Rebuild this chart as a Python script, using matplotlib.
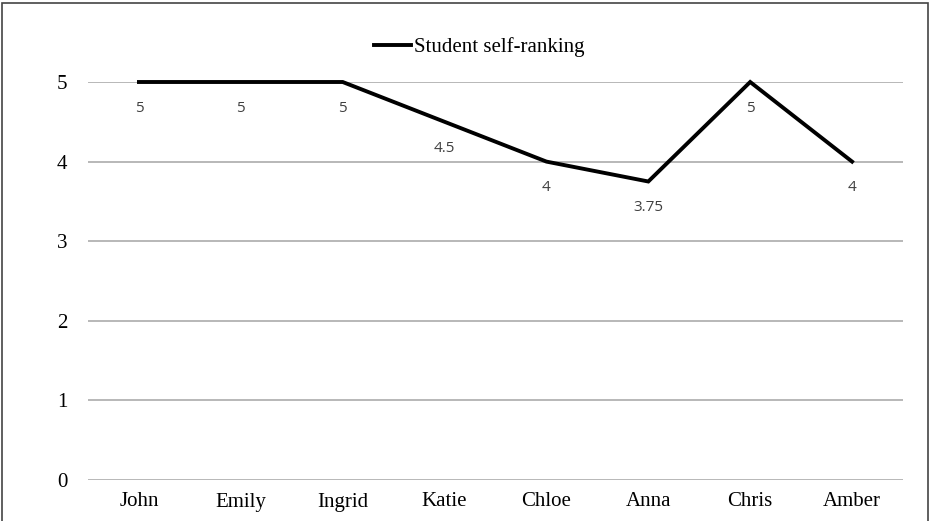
import matplotlib
matplotlib.use("Agg")
import matplotlib.pyplot as plt
from matplotlib.patches import Rectangle

categories = ["John", "Emily", "Ingrid", "Katie", "Chloe", "Anna", "Chris", "Amber"]
values = [5, 5, 5, 4.5, 4, 3.75, 5, 4]
value_labels = ["5", "5", "5", "4.5", "4", "3.75", "5", "4"]
yticks = [0, 1, 2, 3, 4, 5]
series_name = "Student self-ranking"

fig = plt.figure(figsize=(9.32, 5.21), dpi=100)
ax = fig.add_axes([88/932, 1-480/521, (903-88)/932, (480-82)/521])

x = list(range(len(categories)))
ax.plot(x, values, color="black", lw=2.8, solid_joinstyle="miter",
        label=series_name, clip_on=False, zorder=3)

for xi, v, lab in zip(x, values, value_labels):
    ax.annotate(lab, (xi, v), xytext=(0, -19), textcoords="offset points",
                ha="center", va="center", fontsize=11, color="#404040",
                family="Open Sans")

ax.set_xlim(-0.5, len(categories) - 0.5)
ax.set_ylim(0, 5)
ax.set_yticks(yticks)
ax.set_yticklabels([str(t) for t in yticks], family="Liberation Serif", fontsize=15)
ax.set_xticks(x)
ax.set_xticklabels(categories, family="Liberation Serif", fontsize=15)
ax.tick_params(axis="both", length=0)
ax.tick_params(axis="y", pad=15)
ax.tick_params(axis="x", pad=9)
for s in ax.spines.values():
    s.set_visible(False)
ax.grid(axis="y", color="#b8b8b8", lw=1.4, zorder=0)
ax.set_axisbelow(True)

leg = fig.legend(loc="center", bbox_to_anchor=(479/932, 1-47/521), frameon=False,
                 prop={"family": "Liberation Serif", "size": 15},
                 handlelength=1.8, handletextpad=0.1)

fig.patches.append(Rectangle((2/932, -0.01), 926/932, 1 - 3/521 + 0.01,
                             transform=fig.transFigure, fill=False,
                             edgecolor="#444444", lw=1.2))

fig.savefig("out.png", dpi=100)
